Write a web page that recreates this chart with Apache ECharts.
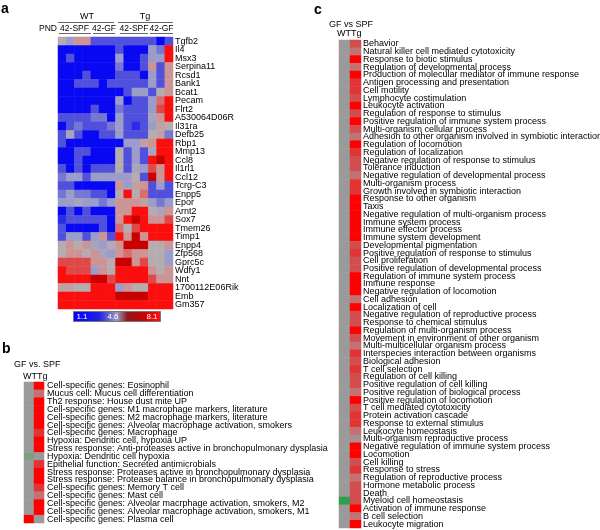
<!DOCTYPE html>
<html><head><meta charset="utf-8">
<script src="https://cdn.jsdelivr.net/npm/echarts@6/dist/echarts.min.js"></script>
<style>html,body{margin:0;padding:0;background:#fff}#c{width:600px;height:530px}</style>
</head><body><div id="c"></div>
<script>
// ---------- Panel a ----------
var geneLabels = ["Tgfb2","Il4","Msx3","Serpina11","Rcsd1","Bank1","Bcat1","Pecam","Flrt2","A530064D06R","Il31ra","Defb25","Rbp1","Mmp13","Ccl8","Il1rl1","Ccl12","Tcrg-C3","Enpp5","Epor","Arnt2","Sox7","Tmem26","Timp1","Enpp4","Zfp568","Gprc5c","Wdfy1","Nnt","1700112E06Rik","Emb","Gm357"];
var sampleLabels = ["WT-SPF1","WT-SPF2","WT-SPF3","WT-SPF4","WT-GF1","WT-GF2","WT-GF3","Tg-SPF1","Tg-SPF2","Tg-SPF3","Tg-SPF4","Tg-GF1","Tg-GF2","Tg-GF3"];
var expression = [
 [4,3,5,5,2,2,2, 2,2,2,2,2,1,2],
 [1,1,1,1,1,1,1, 2,1,1,1,3,2.5,7],
 [1,2,1,1,1,1,1, 3,1,1,2,3,3,7],
 [1,1,1,1,1,1,1, 2.5,1,1,2,5,2,5],
 [1,1,1,2,1,1,1, 2,2,2,1,3,2,5],
 [1,1,2,2,2,1,2, 2,2,2,2,3,2,5],
 [1,1,1,1,1,1,1, 1,2,3,3,2,4,5],
 [1,1,1,1,1,1,1, 3,1,2,2,3,5.5,7],
 [1,1,1,1,2,1,1, 2.5,2,2,2,3,6,7],
 [2,2,2,2,2.5,2.5,1, 3,2,2,2,3.5,5,7],
 [1,2,2.5,2,2,2,2.5, 3,2,1.5,2,3,4.5,4],
 [2,3.5,2,1,1,2,2, 3,2,2,2,4,4.5,2.5],
 [2,1,1,1,1,1,1, 1,3,3,4.5,5,7,7],
 [1,1,2,2,1,1,1, 4,2,3,2,3.5,7,7],
 [1,1,2,1,1,1,1, 4,2,3,2,7,8,7],
 [2,1,2,1,2,2,2, 4,2,3.5,3,6,5,7],
 [2.5,3,3,2,3,3,3, 3,3,4,2,8,5,7],
 [2,2,1,1,1,1,1, 5,3,4.5,5,2,3,2],
 [2.5,3,2.5,2.5,2,2,1, 4,7,4,5.5,2,2,2],
 [3,3,3.5,3,3,2.5,3, 5,5,5,4.5,3,2.5,3],
 [1,2,1,2,1,1,1, 5,5,7,7,4,3.5,5],
 [1.5,2,2,2,2,2,1, 5,7,8,7,5,5,6],
 [2,1,1,1,1,2,1, 5.5,4,6,7,7,7,7],
 [2,3,3,2,3,5,2, 7,5,8,5,7,7,7],
 [4,5,4,5,3.5,3,4, 5,8,8,8,4,4,5],
 [4,5,5,4,5,3.5,3, 5,5.5,5,5,4,4,3],
 [6,6,6,6,5,5,4, 8,8,5,6,4,4,3],
 [7,6,6,6,3,5,4, 7,7,7,7,5,4,5],
 [7,7,7,7,8,8,6, 7,7,7,7,6,5,5],
 [4.5,4.5,4,4,7,7,7, 3,5,4,4,7,7,7],
 [7,7,7,7,7,7,7, 8,8,8,8,7,7,7],
 [7,7,7,7,7,7,7, 7,7,7,7,7,7,7]
];
var legendTicks = ["1.1","4.6","8.1"];

// ---------- Panel b ----------
var setLabelsB = ["Cell-specific genes: Eosinophil","Mucus cell: Mucus cell differentiation","Th2 response: House dust mite UP","Cell-specific genes: M1 macrophage markers, literature","Cell-specific genes: M2 macrophage markers, literature","Cell-specific genes: Alveolar macrophage activation, smokers","Cell-specific genes: Macrophage","Hypoxia: Dendritic cell, hypoxia UP","Stress response: Anti-proteases active in bronchopulmonary dysplasia","Hypoxia: Dendritic cell hypoxia","Epithelial function: Secreted antimicrobials","Stress response: Proteases active in bronchopulmonary dysplasia","Stress response: Protease balance in bronchopulmonary dysplasia","Cell-specific genes: Memory T cell","Cell-specific genes: Mast cell","Cell-specific genes: Alveolar macrphage activation, smokers, M2","Cell-specific genes: Alveolar macrophage activation, smokers, M1","Cell-specific genes: Plasma cell"];
var wtB = [0,0,0,0,0,0,0,0,0,-1,0,0,0,0,0,0,0,5];
var tgB = [5,2,5,5,5,5,4,5,5,0,4,5,5,4,2,5,5,0];

// ---------- Panel c ----------
var goLabelsC = ["Behavior","Natural killer cell mediated cytotoxicity","Response to biotic stimulus","Regulation of developmental process","Production of molecular mediator of immune response","Antigen processing and presentation","Cell motility","Lymphocyte costimulation","Leukocyte activation","Regulation of response to stimulus","Positive regulation of immune system process","Multi-organism cellular process","Adhesion to other organism involved in symbiotic interaction","Regulation of locomotion","Regulation of localization","Negative regulation of response to stimulus","Tolerance induction","Negative regulation of developmental process","Multi-organism process","Growth involved in symbiotic interaction","Response to other organism","Taxis","Negative regulation of multi-organism process","Immune system process","Immune effector process","Immune system development","Developmental pigmentation","Positive regulation of response to stimulus","Cell proliferation","Positive regulation of developmental process","Regulation of immune system process","Immune response","Negative regulation of locomotion","Cell adhesion","Localization of cell","Negative regulation of reproductive process","Response to chemical stimulus","Regulation of multi-organism process","Movement in environment of other organism","Multi-multicellular organism process","Interspecies interaction between organisms","Biological adhesion","T cell selection","Regulation of cell killing","Positive regulation of cell killing","Positive regulation of biological process","Positive regulation of locomotion","T cell mediated cytotoxicity","Protein activation cascade","Response to external stimulus","Leukocyte homeostasis","Multi-organism reproductive process","Negative regulation of immune system process","Locomotion","Cell killing","Response to stress","Regulation of reproductive process","Hormone metabolic process","Death","Myeloid cell homeostasis","Activation of immune response","B cell selection","Leukocyte migration"];
var wtC = [0,0,0,0,0,0,0,0,0,0,0,0,0,0,0,0,0,0,0,0,0,0,0,0,0,0,0,0,0,0,0,0,0,0,0,0,0,0,0,0,0,0,0,0,0,0,0,0,0,0,0,0,0,0,0,0,0,0,0,-1,0,0,0];
var tgC = [3,2,5,2,5,4,4,3,5,3,5,3,2,5,4,3,3,2,4,4,5,5,5,5,5,5,3,4,3,3,5,5,5,2,5,3,3,5,3,2,4,3,4,3,3,2,5,3,4,4,2,1,5,5,3,4,2,3,3,3,5,2,5];
var groupCols = ["WT","Tg"];

function buildA(){var d=[];for(var r=0;r<expression.length;r++)for(var c=0;c<expression[r].length;c++)d.push([c,r,expression[r][c]]);return d;}
function build2(wt,tg){var d=[];for(var r=0;r<wt.length;r++){d.push([0,r,wt[r]]);d.push([1,r,tg[r]]);}return d;}

var FONT = "'Liberation Sans', Arial, sans-serif";
function yAx(gi,labels,margin){return {gridIndex:gi,type:'category',data:labels,inverse:true,position:'right',
  axisLine:{show:false},axisTick:{show:false},splitLine:{show:false},
  axisLabel:{interval:0,fontSize:9,color:'#000',fontFamily:FONT,margin:margin,hideOverlap:false}};}
function xAx(gi,labels){return {gridIndex:gi,type:'category',data:labels,show:false};}

var redsB = {'-1':'#7f9f80','0':'#9a9a9a','1':'#a88c8c','2':'#c27272','3':'#d24e4e','4':'#e23434','5':'#ff0000'};
var redsC = {'-1':'#2f9e4f','0':'#9a9a9a','1':'#a88e8e','2':'#c27272','3':'#d24e4e','4':'#e23434','5':'#ff0000'};
function pieces(m){var p=[];for(var k in m)p.push({value:+k,color:m[k]});return p;}

function T(x,y,text,opt){opt=opt||{};return {type:'text',x:x,y:y,style:{text:text,font:(opt.bold?'bold ':'')+(opt.size||9)+'px '+FONT,fill:opt.fill||'#000',textAlign:opt.align||'left',textVerticalAlign:'middle'}};}
function L(x1,y1,x2,y2,c){return {type:'line',shape:{x1:x1,y1:y1,x2:x2,y2:y2},style:{stroke:c||'#666',lineWidth:1}};}

var G = {containLabel:false,outerBoundsMode:'none'};
function grid(l,t,w,h){return Object.assign({left:l,top:t,width:w,height:h},G);}

var chart = echarts.init(document.getElementById('c'),null,{renderer:'canvas'});
chart.setOption({
  animation:false,
  grid:[ grid(58,37,115,272), grid(24,382,20,141), grid(339,40,22,488) ],
  xAxis:[xAx(0,sampleLabels),xAx(1,groupCols),xAx(2,groupCols)],
  yAxis:[yAx(0,geneLabels,2),yAx(1,setLabelsB,3),yAx(2,goLabelsC,2)],
  visualMap:[
    {type:'continuous',show:false,seriesIndex:0,dimension:2,min:1,max:8,
     inRange:{color:['#0808f2','#5050dc','#9c9cca','#b6acb0','#cc9494','#e04848','#fb0e0e','#c80000']}},
    {type:'piecewise',show:false,seriesIndex:1,dimension:2,pieces:pieces(redsB)},
    {type:'piecewise',show:false,seriesIndex:2,dimension:2,pieces:pieces(redsC)}
  ],
  series:[
    {type:'heatmap',xAxisIndex:0,yAxisIndex:0,data:buildA(),itemStyle:{borderWidth:0}},
    {type:'heatmap',xAxisIndex:1,yAxisIndex:1,data:build2(wtB,tgB),itemStyle:{borderWidth:0}},
    {type:'heatmap',xAxisIndex:2,yAxisIndex:2,data:build2(wtC,tgC),itemStyle:{borderWidth:0}}
  ],
  graphic:[
    T(1,9,'a',{bold:true,size:14}),
    T(2,349,'b',{bold:true,size:14}),
    T(314,10,'c',{bold:true,size:14}),
    T(87,17,'WT',{align:'center'}), T(145,17,'Tg',{align:'center'}),
    L(58,22.5,114,22.5), L(118,22.5,173,22.5),
    T(57,29,'PND',{align:'right',size:8.5}),
    T(74.5,29,'42-SPF',{align:'center',size:8.5}), T(104,29,'42-GF',{align:'center',size:8.5}),
    T(134,29,'42-SPF',{align:'center',size:8.5}), T(161.5,29,'42-GF',{align:'center',size:8.5}),
    L(59,33.5,91,33.5), L(93,33.5,115,33.5), L(120,33.5,148,33.5), L(150,33.5,173,33.5),
    {type:'line',shape:{x1:115.6,y1:37,x2:115.6,y2:309},style:{stroke:'#fff',lineWidth:1}},
    {type:'rect',shape:{x:73.5,y:311.5,width:87,height:10},style:{stroke:'#777',lineWidth:1,
      fill:{type:'linear',x:0,y:0,x2:1,y2:0,colorStops:[{offset:0,color:'#0000ff'},{offset:0.3,color:'#2222e0'},{offset:0.5,color:'#9a9ac2'},{offset:0.62,color:'#8c1818'},{offset:0.82,color:'#d00000'},{offset:1,color:'#ff1010'}]}}},
    T(82,316.5,legendTicks[0],{fill:'#fff',size:8,align:'center'}),
    T(113,316.5,legendTicks[1],{fill:'#fff',size:8,align:'center'}),
    T(152,316.5,legendTicks[2],{fill:'#fff',size:8,align:'center'}),
    T(14,365,'GF vs. SPF'), T(23,376.5,'WTTg'),
    T(329,24.5,'GF vs SPF'), T(337,34,'WTTg')
  ]
});
</script></body></html>
